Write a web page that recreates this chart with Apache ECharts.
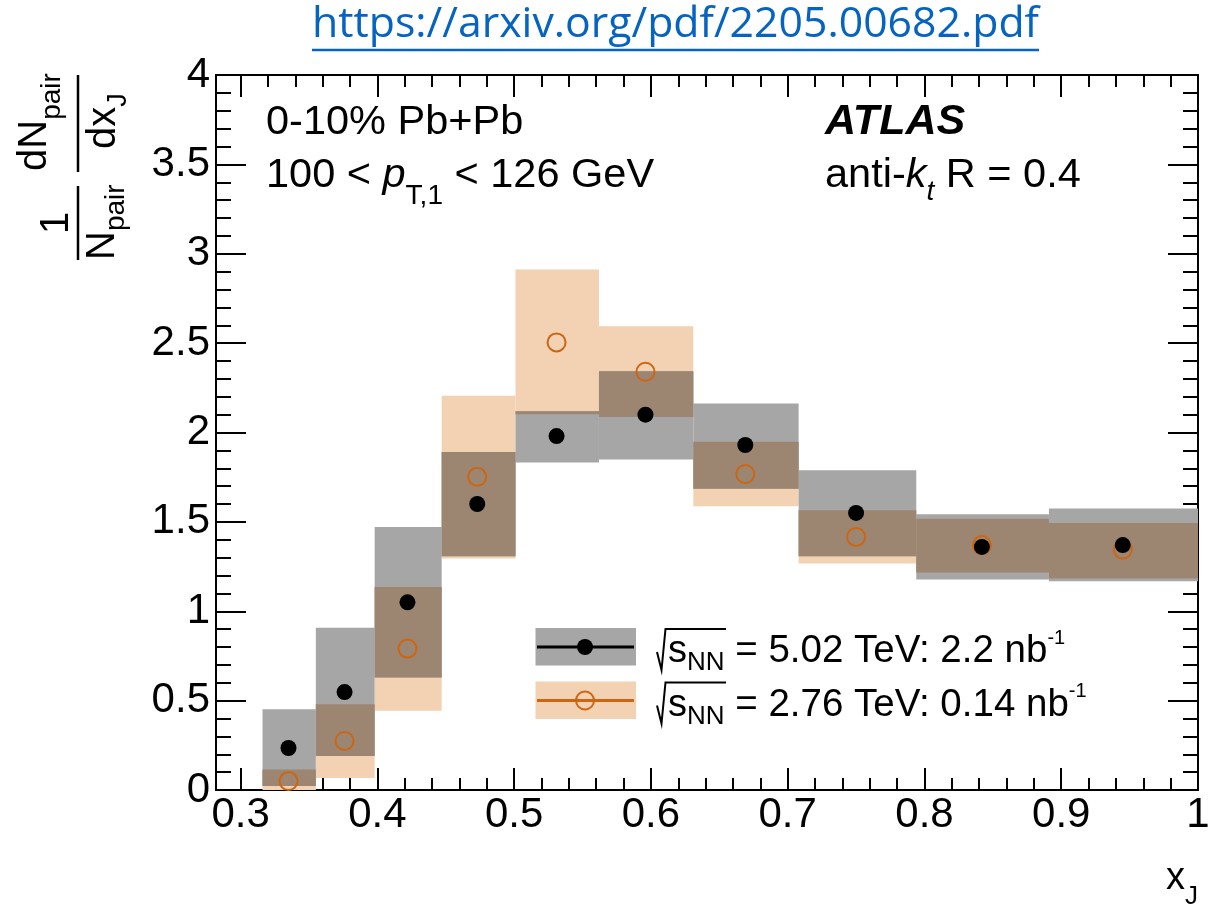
<!DOCTYPE html>
<html>
<head>
<meta charset="utf-8">
<script src="https://cdn.jsdelivr.net/npm/echarts@6/dist/echarts.min.js"></script>
<style>
  html, body { margin: 0; padding: 0; background: #ffffff; }
  #chart { width: 1222px; height: 907px; }
</style>
</head>
<body>
<div id="chart"></div>
<script>
// x_J bins: lower and upper edges, and where each point sits inside its bin
const binLow    = [0.316, 0.355, 0.398, 0.447, 0.501, 0.562, 0.631, 0.708, 0.794, 0.891];
const binHigh   = [0.355, 0.398, 0.447, 0.501, 0.562, 0.631, 0.708, 0.794, 0.891, 1.000];
const binCenter = [0.335, 0.376, 0.422, 0.473, 0.531, 0.596, 0.669, 0.750, 0.842, 0.945];

// sqrt(sNN) = 5.02 TeV: central values and systematic band edges
const y502       = [0.235, 0.548, 1.05, 1.60, 1.98, 2.10, 1.93, 1.55, 1.36, 1.37];
const sys502Low  = [0.022, 0.190, 0.629, 1.308, 1.832, 1.849, 1.685, 1.308, 1.177, 1.168];
const sys502High = [0.452, 0.907, 1.472, 1.891, 2.119, 2.343, 2.162, 1.789, 1.543, 1.575];

// sqrt(sNN) = 2.76 TeV: central values and systematic band edges
const y276       = [0.050, 0.274, 0.791, 1.752, 2.504, 2.340, 1.768, 1.416, 1.370, 1.345];
const sys276Low  = [-0.014, 0.067, 0.444, 1.295, 2.102, 2.087, 1.588, 1.267, 1.217, 1.183];
const sys276High = [0.114, 0.480, 1.136, 2.205, 2.912, 2.595, 1.948, 1.565, 1.517, 1.494];

// axis tick positions
const xMajorTicks = [0.3, 0.4, 0.5, 0.6, 0.7, 0.8, 0.9, 1.0];
const xMinorTicks = [];
for (let k = 15; k <= 50; k++) xMinorTicks.push(+(k * 0.02).toFixed(2));

const GRAY = '#a6a6a6';
const PEACH = '#f2d2b2';
const OVERLAP = '#9c8672';
const ORANGE = '#cc6612';
const FONT = '"Liberation Sans", Arial, Helvetica, sans-serif';

// ---------- data tables for the series ----------
const band502 = binLow.map((lo, i) => [lo, binHigh[i], sys502Low[i], sys502High[i]]);
const band276 = binLow.map((lo, i) => [lo, binHigh[i], sys276Low[i], sys276High[i]]);
const bandBoth = [];
binLow.forEach((lo, i) => {
  const a = Math.max(sys502Low[i], sys276Low[i]);
  const b = Math.min(sys502High[i], sys276High[i]);
  if (b > a) bandBoth.push([lo, binHigh[i], a, b]);
});
const pts502 = binCenter.map((x, i) => [x, y502[i]]);
const pts276 = binCenter.map((x, i) => [x, y276[i]]);

function boxRenderer(fill) {
  return function (params, api) {
    const p0 = api.coord([api.value(0), api.value(3)]);
    const p1 = api.coord([api.value(1), api.value(2)]);
    const cs = params.coordSys;
    const shape = echarts.graphic.clipRectByRect(
      { x: p0[0], y: p0[1], width: p1[0] - p0[0], height: p1[1] - p0[1] },
      { x: cs.x, y: cs.y, width: cs.width, height: cs.height }
    );
    if (!shape) return null;
    return { type: 'rect', shape: shape, style: { fill: fill } };
  };
}

// ---------- text helpers (runs of text sharing a baseline) ----------
const mctx = document.createElement('canvas').getContext('2d');
function fontOf(p) {
  return (p.italic ? 'italic ' : '') + (p.bold ? 'bold ' : '') + p.size + 'px ' + (p.family || FONT);
}
function measure(p) {
  mctx.font = fontOf(p);
  const m = mctx.measureText(p.t);
  const asc = m.fontBoundingBoxAscent != null ? m.fontBoundingBoxAscent : 0.905 * p.size;
  const desc = m.fontBoundingBoxDescent != null ? m.fontBoundingBoxDescent : 0.212 * p.size;
  return { width: m.width, mid: (asc - desc) / 2 };
}
function textRun(x, baseline, parts, fill) {
  const out = [];
  let cx = x;
  parts.forEach(p => {
    const m = measure(p);
    out.push({
      type: 'text', x: cx, y: baseline + (p.dy || 0) - m.mid, z: 100,
      style: { text: p.t, font: fontOf(p), fill: p.fill || fill || '#000', align: 'left', verticalAlign: 'middle' }
    });
    cx += m.width;
  });
  return out;
}
function centeredText(cx, baseline, p) {
  const m = measure(p);
  return textRun(cx - m.width / 2, baseline, [p]);
}

// ---------- axes ----------
const lineStyle = { color: '#000', width: 2 };
function xAxisDef(position, ticks, len, withLabels) {
  return {
    type: 'value', position: position, min: 0.282, max: 1,
    axisLine: { show: true, onZero: false, lineStyle: lineStyle },
    axisTick: { show: true, inside: true, length: len, customValues: ticks, lineStyle: lineStyle },
    axisLabel: withLabels ? {
      show: true, customValues: xMajorTicks, fontSize: 42, fontFamily: FONT, color: '#000', margin: 4
    } : { show: false },
    splitLine: { show: false }
  };
}
function yAxisDef(position, withLabels) {
  return {
    type: 'value', position: position, min: 0, max: 4, interval: 0.5,
    axisLine: { show: true, onZero: false, lineStyle: lineStyle },
    axisTick: { show: true, inside: true, length: 30, lineStyle: lineStyle },
    minorTick: { show: true, splitNumber: 5, length: 15, lineStyle: lineStyle },
    axisLabel: withLabels ? { show: true, fontSize: 42, fontFamily: FONT, color: '#000', margin: 6 } : { show: false },
    splitLine: { show: false },
    minorSplitLine: { show: false }
  };
}

// ---------- annotations ----------
const graphics = [];

// link line at the top
(function () {
  const url = 'https://arxiv.org/pdf/2205.00682.pdf';
  const p = { t: url, size: 42, family: '"Open Sans", "Noto Sans", sans-serif' };
  const m = measure(p);
  const sx = 727 / m.width;
  graphics.push({
    type: 'text', x: 312, y: 42 - m.mid, scaleX: sx, z: 100,
    style: { text: url, font: fontOf(p), fill: '#0563C1', align: 'left', verticalAlign: 'middle' }
  });
  graphics.push({ type: 'line', z: 100, shape: { x1: 312, y1: 50, x2: 1039, y2: 50 }, style: { stroke: '#0563C1', lineWidth: 2.5 } });
})();

// selection labels
graphics.push(...textRun(266, 137, [{ t: '0-10% Pb+Pb', size: 41.5 }]));
graphics.push(...textRun(266, 190, [
  { t: '100 < ', size: 41.5 },
  { t: 'p', size: 41.5, italic: true },
  { t: 'T,1', size: 28, dy: 16 },
  { t: ' < 126 GeV', size: 41.5 }
]));
graphics.push(...textRun(825, 137, [{ t: 'ATLAS', size: 43, bold: true, italic: true }]));
graphics.push(...textRun(825, 190, [
  { t: 'anti-', size: 41.5 },
  { t: 'k', size: 41.5, italic: true },
  { t: 't', size: 28, italic: true, dy: 12 },
  { t: ' R = 0.4', size: 41.5 }
]));

// x axis title
graphics.push(...textRun(1166, 892, [{ t: 'x', size: 38 }, { t: 'J', size: 26, dy: 14 }]));

// y axis title: (1/N_pair) dN_pair/dx_J, reading bottom to top
(function () {
  const kids = [];
  kids.push({ type: 'line', shape: { x1: 0, y1: 0, x2: 74, y2: 0 }, style: { stroke: '#000', lineWidth: 2.5 } });
  kids.push(...centeredText(37, -7, { t: '1', size: 40 }));
  kids.push(...textRun(0, 39, [{ t: 'N', size: 40 }, { t: 'pair', size: 28, dy: 9 }]));
  kids.push({ type: 'line', shape: { x1: 88, y1: 0, x2: 185, y2: 0 }, style: { stroke: '#000', lineWidth: 2.5 } });
  kids.push(...textRun(89, -29, [{ t: 'dN', size: 40 }, { t: 'pair', size: 28, dy: 13 }]));
  kids.push(...textRun(111, 40, [{ t: 'dx', size: 40 }, { t: 'J', size: 27, dy: 10 }]));
  graphics.push({ type: 'group', x: 78, y: 260, rotation: Math.PI / 2, z: 100, children: kids });
})();

// legend
(function () {
  const rows = [
    { y: 628, fill: GRAY, line: '#000', text: ' = 5.02 TeV: 2.2 nb', filled: true },
    { y: 681.5, fill: PEACH, line: ORANGE, text: ' = 2.76 TeV: 0.14 nb', filled: false }
  ];
  rows.forEach(r => {
    const cy = r.y + 19;
    graphics.push({ type: 'rect', z: 100, shape: { x: 535.5, y: r.y, width: 100.5, height: 37.5 }, style: { fill: r.fill } });
    graphics.push({ type: 'line', z: 101, shape: { x1: 537, y1: cy, x2: 634, y2: cy }, style: { stroke: r.line, lineWidth: 3 } });
    graphics.push({
      type: 'circle', z: 102, shape: { cx: 585, cy: cy, r: r.filled ? 8 : 9 },
      style: r.filled ? { fill: '#000' } : { fill: 'none', stroke: ORANGE, lineWidth: 2 }
    });
    const base = r.y + 37;
    graphics.push({
      type: 'polyline', z: 100,
      shape: { points: [[657, base - 13], [661.5, base + 5], [665.5, base - 36], [726, base - 36]] },
      style: { stroke: '#000', lineWidth: 2, fill: 'none' }
    });
    graphics.push(...textRun(668, base, [
      { t: 's', size: 38 },
      { t: 'NN', size: 26, dy: 7 },
      { t: r.text, size: 38.5 },
      { t: '-1', size: 20, dy: -20 }
    ]));
  });
})();

const chart = echarts.init(document.getElementById('chart'), null, { renderer: 'canvas' });
chart.setOption({
  animation: false,
  backgroundColor: '#ffffff',
  grid: { left: 216, top: 75, width: 982, height: 715, containLabel: false },
  xAxis: [
    xAxisDef('bottom', xMajorTicks, 22, true),
    xAxisDef('bottom', xMinorTicks, 12, false),
    xAxisDef('top', xMajorTicks, 22, false),
    xAxisDef('top', xMinorTicks, 12, false)
  ],
  yAxis: [yAxisDef('left', true), yAxisDef('right', false)],
  series: [
    { type: 'custom', name: '2.76 band', xAxisIndex: 0, yAxisIndex: 0, data: band276,
      encode: { x: [0, 1], y: [2, 3] }, renderItem: boxRenderer(PEACH), z: 1, silent: true },
    { type: 'custom', name: '5.02 band', xAxisIndex: 0, yAxisIndex: 0, data: band502,
      encode: { x: [0, 1], y: [2, 3] }, renderItem: boxRenderer(GRAY), z: 2, silent: true },
    { type: 'custom', name: 'band overlap', xAxisIndex: 0, yAxisIndex: 0, data: bandBoth,
      encode: { x: [0, 1], y: [2, 3] }, renderItem: boxRenderer(OVERLAP), z: 3, silent: true },
    { type: 'scatter', name: '2.76 TeV', xAxisIndex: 0, yAxisIndex: 0, data: pts276, z: 4,
      symbol: 'circle', symbolSize: 18,
      itemStyle: { color: 'rgba(0,0,0,0)', borderColor: ORANGE, borderWidth: 2, opacity: 1 } },
    { type: 'scatter', name: '5.02 TeV', xAxisIndex: 0, yAxisIndex: 0, data: pts502, z: 5,
      symbol: 'circle', symbolSize: 16, itemStyle: { color: '#000', opacity: 1 } }
  ],
  graphic: graphics
});
</script>
</body>
</html>
